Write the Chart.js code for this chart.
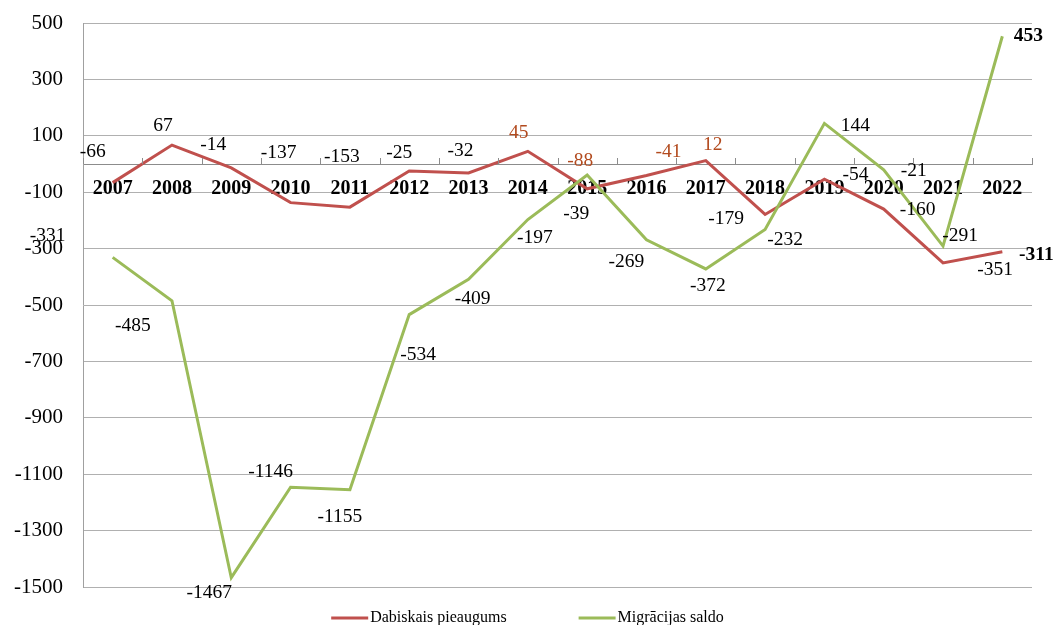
<!DOCTYPE html>
<html>
<head>
<meta charset="utf-8">
<script src="https://cdn.jsdelivr.net/npm/chart.js@4/dist/chart.umd.min.js"></script>
<style>
  html, body { margin: 0; padding: 0; background: #fff; }
  #wrap { width: 1055px; height: 625px; }
</style>
</head>
<body>
<div id="wrap"><canvas id="chart" width="1055" height="625"></canvas></div>
<script>
// data
var years = ['2007', '2008', '2009', '2010', '2011', '2012', '2013', '2014', '2015', '2016', '2017', '2018', '2019', '2020', '2021', '2022'];
var natural = [-66, 67, -14, -137, -153, -25, -32, 45, -88, -41, 12, -179, -54, -160, -351, -311];
var migration = [-331, -485, -1467, -1146, -1155, -534, -409, -197, -39, -269, -372, -232, 144, -21, -291, 453];
var yTicks = [-1500, -1300, -1100, -900, -700, -500, -300, -100, 100, 300, 500];
var seriesNames = ['Dabiskais pieaugums', 'Migrācijas saldo'];

// where each value label sits relative to its point (px)
var naturalLabelShift = [[-20, -31], [-9, -19], [-18, -23], [-12, -50], [-8, -50], [-10, -18], [-8, -22], [-9, -18],
    [-7, -28], [22, -24], [7, -16], [-39, 4], [31, -4], [34, 1], [52, 7], [34, 3]];
var migrationLabelShift = [[-65, -21], [-39, 25], [-22, 15], [-20, -15], [-10, 27], [9, 40], [4, 20], [7, 18],
    [-11, 39], [-20, 22], [2, 17], [20, 10], [31, 2], [30, 1], [17, -10], [26, 0]];
var orangeLabels = [7, 8, 9, 10];

var red = '#C0504D';
var green = '#9BBB59';
var serif = '"Liberation Serif", "Times New Roman", serif';

var valueLabels = {
    id: 'valueLabels',
    afterDatasetsDraw: function(chart) {
        var ctx = chart.ctx;
        ctx.save();
        ctx.textAlign = 'center';
        ctx.textBaseline = 'middle';
        chart.data.datasets.forEach(function(ds, di) {
            var meta = chart.getDatasetMeta(di);
            var shifts = di === 0 ? naturalLabelShift : migrationLabelShift;
            meta.data.forEach(function(pt, i) {
                var last = i === ds.data.length - 1;
                ctx.font = (last ? 'bold ' : '') + '19.5px ' + serif;
                ctx.fillStyle = (di === 0 && orangeLabels.indexOf(i) >= 0) ? '#B24A1E' : '#000';
                ctx.fillText(String(ds.data[i]), pt.x + shifts[i][0], pt.y + shifts[i][1]);
            });
        });
        ctx.restore();
    }
};

var axisMarks = {
    id: 'axisMarks',
    afterDraw: function(chart) {
        var ctx = chart.ctx;
        var x = chart.scales.x;
        var y0 = chart.scales.y.getPixelForValue(0);
        var step = x.getPixelForValue(1) - x.getPixelForValue(0);
        ctx.save();
        ctx.strokeStyle = '#8c8c8c';
        ctx.lineWidth = 1;
        ctx.beginPath();
        for (var i = 0; i <= years.length; i++) {
            var px = Math.round(x.getPixelForValue(0) - step / 2 + i * step) + 0.5;
            ctx.moveTo(px, y0);
            ctx.lineTo(px, y0 - 6);
        }
        ctx.stroke();
        ctx.restore();
    }
};

var bottomLegend = {
    id: 'bottomLegend',
    afterDraw: function(chart) {
        var ctx = chart.ctx;
        var sample = 37, gap = 2, between = 72;
        ctx.save();
        ctx.font = '16px ' + serif;
        var widths = seriesNames.map(function(n) { return sample + gap + ctx.measureText(n).width; });
        var total = widths[0] + between + widths[1];
        var x = (chart.width - total) / 2;
        var y = 618;
        ctx.textBaseline = 'middle';
        ctx.textAlign = 'left';
        chart.data.datasets.forEach(function(ds, di) {
            ctx.strokeStyle = ds.borderColor;
            ctx.lineWidth = 3;
            ctx.beginPath();
            ctx.moveTo(x, y);
            ctx.lineTo(x + sample, y);
            ctx.stroke();
            ctx.fillStyle = '#000';
            ctx.fillText(seriesNames[di], x + sample + gap, y);
            x += widths[di] + between;
        });
        ctx.restore();
    }
};

new Chart('chart', {
    type: 'line',
    data: {
        labels: years,
        datasets: [{
            label: seriesNames[0],
            data: natural,
            borderColor: red,
            backgroundColor: red,
            borderWidth: 3,
            pointRadius: 0,
            tension: 0,
            order: 1
        }, {
            label: seriesNames[1],
            data: migration,
            borderColor: green,
            backgroundColor: green,
            borderWidth: 3,
            pointRadius: 0,
            tension: 0,
            order: 0
        }]
    },
    options: {
        responsive: false,
        animation: false,
        layout: {
            padding: { left: 0, top: 23, right: 23, bottom: 38 }
        },
        plugins: {
            legend: { display: false },
            tooltip: { enabled: false }
        },
        scales: {
            x: {
                position: { y: 0 },
                offset: true,
                grid: { display: true, drawOnChartArea: false, drawTicks: false, offset: true },
                border: { display: true, color: '#8c8c8c', width: 1 },
                ticks: {
                    color: '#000',
                    padding: 13,
                    maxRotation: 0,
                    autoSkip: false,
                    font: { family: serif, size: 20, weight: 'bold' }
                }
            },
            y: {
                min: -1500,
                max: 500,
                afterBuildTicks: function(scale) {
                    scale.ticks = yTicks.map(function(v) { return { value: v }; });
                },
                afterFit: function(scale) {
                    scale.width = 83;
                    scale.paddingTop = 10;
                    scale.paddingBottom = 10;
                },
                grid: { color: '#b0b0b0', drawTicks: false },
                border: { display: true, color: '#a0a0a0' },
                ticks: {
                    color: '#000',
                    padding: 20,
                    font: { family: serif, size: 21 },
                    callback: function(v) { return String(v); }
                }
            }
        }
    },
    plugins: [valueLabels, axisMarks, bottomLegend]
});
</script>
</body>
</html>
